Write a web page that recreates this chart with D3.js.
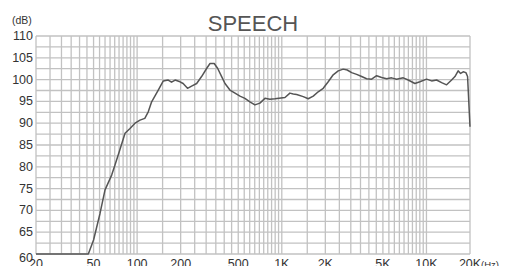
<!DOCTYPE html>
<html>
<head>
<meta charset="utf-8">
<script src="https://cdn.jsdelivr.net/npm/d3@7"></script>
<style>
  body { margin: 0; background: #fff; }
  svg { display: block; font-family: "Liberation Sans", Arial, sans-serif; }
</style>
</head>
<body>
<div id="chart"></div>
<script>
// response curve
var freqs = [20, 46, 50, 55.4, 60, 66.7, 70.3, 76, 82.5, 89.3, 96.7, 104.7, 113, 119.4, 126, 140,
  151.7, 164, 173, 183, 198, 208, 223, 238, 258, 279, 303, 319, 341, 360, 384, 405, 438, 475,
  514, 556, 602, 652, 706, 765, 828, 897, 1052, 1138, 1200, 1267, 1407, 1524, 1650, 1786, 1934,
  2094, 2267, 2455, 2659, 2833, 3040, 3292, 3565, 3858, 4180, 4527, 4900, 5310, 5740, 6220,
  6910, 7480, 8320, 9010, 10020, 10860, 11750, 12730, 13780, 14920, 15740, 16560, 17220,
  17950, 18740, 19240, 20000];
var levels = [60, 60, 63.2, 69.3, 74.7, 78.1, 80.4, 83.9, 87.7, 88.8, 90.0, 90.7, 91.1, 92.6, 94.9, 97.6,
  99.7, 99.9, 99.4, 99.9, 99.5, 99.1, 98.0, 98.5, 99.1, 100.7, 102.6, 103.7, 103.7, 102.6, 100.7, 99.1, 97.6, 96.9,
  96.2, 95.7, 94.9, 94.2, 94.6, 95.7, 95.5, 95.6, 95.9, 96.9, 96.7, 96.6, 96.1, 95.6, 96.2, 97.2, 98.0,
  99.5, 101.1, 102.0, 102.4, 102.2, 101.6, 101.2, 100.7, 100.2, 100.1, 100.9, 100.5, 100.2, 100.4, 100.1,
  100.4, 99.9, 99.1, 99.5, 100.1, 99.7, 99.9, 99.3, 98.8, 99.9, 100.7, 102.0, 101.4,
  101.8, 101.6, 100.7, 89.2];

var yTicks = [60, 65, 70, 75, 80, 85, 90, 95, 100, 105, 110];
var xTicks = [20, 50, 100, 200, 500, 1000, 2000, 5000, 10000, 20000];
var xTickLabels = ["20", "50", "100", "200", "500", "1K", "2K", "5K", "10K", "20K"];
var title = "SPEECH";

var W = 505, H = 266;
var margin = { top: 36, right: 35, bottom: 12, left: 36 };
var width = W - margin.left - margin.right,
  height = H - margin.top - margin.bottom;

var xScale = d3.scaleLog().domain([20, 20000]).range([0, width]);
var yScale = d3.scaleLinear().domain([60, 110]).range([height, 0]);

var svg = d3.select("#chart").append("svg")
  .attr("width", W)
  .attr("height", H);

var g = svg.append("g")
  .attr("transform", "translate(" + margin.left + "," + margin.top + ")");

// vertical grid: 5 Hz steps below 100, 50 Hz to 1K, 500 Hz to 10K
var vGrid = d3.range(20, 101, 5)
  .concat(d3.range(150, 1001, 50))
  .concat(d3.range(1500, 10001, 500))
  .concat([20000]);
var hGrid = d3.range(60, 110.1, 2.5);

g.selectAll(".vgrid")
  .data(vGrid)
  .enter().append("line")
  .attr("x1", function(d) { return xScale(d); })
  .attr("x2", function(d) { return xScale(d); })
  .attr("y1", 0)
  .attr("y2", height)
  .attr("stroke", "#c2c2c2")
  .attr("stroke-width", 1.3);

g.selectAll(".hgrid")
  .data(hGrid)
  .enter().append("line")
  .attr("x1", 0)
  .attr("x2", width)
  .attr("y1", function(d) { return yScale(d); })
  .attr("y2", function(d) { return yScale(d); })
  .attr("stroke", "#c2c2c2")
  .attr("stroke-width", 1.3);

// curve
var data = freqs.map(function(f, i) { return { f: f, v: levels[i] }; });
var line = d3.line()
  .x(function(d) { return xScale(d.f); })
  .y(function(d) { return yScale(d.v); });

g.append("path")
  .datum(data)
  .attr("d", line)
  .attr("fill", "none")
  .attr("stroke", "#555")
  .attr("stroke-width", 1.5)
  .attr("stroke-linejoin", "round");

// y labels
g.selectAll(".ylab")
  .data(yTicks)
  .enter().append("text")
  .attr("x", -3)
  .attr("y", function(d) { return yScale(d) + (d === 60 ? 8 : 4); })
  .attr("text-anchor", "end")
  .style("font-size", "12.5px")
  .style("fill", "#333")
  .text(function(d) { return d; });

svg.append("text")
  .attr("x", 12)
  .attr("y", 24)
  .style("font-size", "10.5px")
  .style("fill", "#333")
  .text("(dB)");

// x labels
g.selectAll(".xlab")
  .data(xTicks)
  .enter().append("text")
  .attr("x", function(d) { return xScale(d); })
  .attr("y", height + 14)
  .attr("text-anchor", "middle")
  .style("font-size", "12.5px")
  .style("fill", "#333")
  .text(function(d, i) { return xTickLabels[i]; });

g.append("text")
  .attr("x", xScale(20000) + 11)
  .attr("y", height + 14)
  .style("font-size", "9.5px")
  .style("fill", "#333")
  .text("(Hz)");

svg.append("text")
  .attr("x", 253)
  .attr("y", 31)
  .attr("text-anchor", "middle")
  .style("font-size", "22px")
  .style("fill", "#555")
  .text(title);
</script>
</body>
</html>
